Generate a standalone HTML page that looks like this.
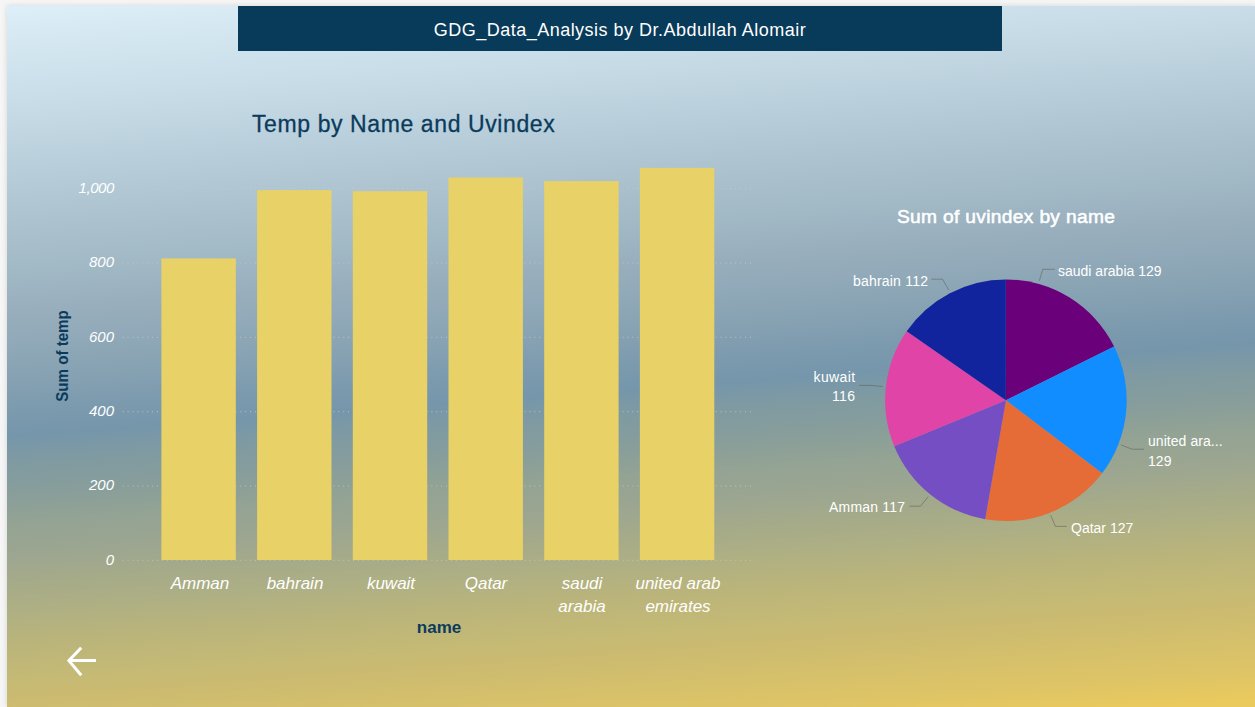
<!DOCTYPE html>
<html>
<head>
<meta charset="utf-8">
<title>GDG_Data_Analysis</title>
<style>
html,body{margin:0;padding:0;}
body{width:1255px;height:707px;overflow:hidden;background:#f6f6f6;position:relative;font-family:"Liberation Sans",sans-serif;}
#canvas{position:absolute;left:7px;top:6px;width:1248px;height:701px;
  box-shadow:0 0 6px rgba(0,0,0,0.14);
  background:
    linear-gradient(175.7deg,
      #ddeff8 0px,
      #c8dde8 95px,
      #b5cbd7 176px,
      #a1b8c5 266px,
      #98aebd 305px,
      #8ea7b6 346px,
      #85a1b2 375px,
      #7c9aae 405px,
      #7596ab 429px,
      #7f9aa2 454px,
      #869d9c 481px,
      #93a394 515px,
      #9da690 551px,
      #a6ab88 578px,
      #afb083 606px,
      #bab47b 635px,
      #c3b976 666px,
      #ccbb70 695px,
      #d5c06b 726px,
      #dec466 756px,
      #eaca5d 786px);
}
.abs{position:absolute;white-space:nowrap;}
#titlebar{position:absolute;left:238px;top:6px;width:764px;height:45px;background:#083a5a;}
#titletxt{left:238px;top:8px;width:764px;height:45px;line-height:45px;text-align:center;color:#fff;font-size:18px;letter-spacing:0.48px;}
#ctitle{left:252px;top:108px;color:#0b3b5c;-webkit-text-stroke:0.3px #0b3b5c;font-size:23px;line-height:32px;letter-spacing:0.6px;}
.yl{position:absolute;width:60px;text-align:right;left:54px;color:#fff;font-style:italic;font-size:15px;line-height:18px;height:18px;}
.xl{position:absolute;width:110px;text-align:center;color:#fff;font-style:italic;font-size:17px;line-height:23px;}
#ytitle{left:62px;top:356px;color:#0b3b5c;font-weight:bold;font-size:16.5px;line-height:18px;transform:translate(-50%,-50%) rotate(-90deg) scaleX(0.915);}
#xtitle{left:439px;top:628px;color:#0b3b5c;font-weight:bold;font-size:17px;line-height:18px;transform:translate(-50%,-50%);}
#ptitle{left:897px;top:205px;color:#fff;font-weight:normal;-webkit-text-stroke:0.55px #fff;font-size:19.2px;line-height:24px;letter-spacing:0.32px;}
.pl{position:absolute;white-space:nowrap;color:#fff;font-size:14px;line-height:20px;}
</style>
</head>
<body>
<div id="canvas"></div>
<div id="titlebar"></div>
<div id="titletxt" class="abs">GDG_Data_Analysis by Dr.Abdullah Alomair</div>

<div id="ctitle" class="abs">Temp by Name and Uvindex</div>

<!-- gridlines + bars -->
<svg class="abs" style="left:0;top:0" width="1255" height="707" viewBox="0 0 1255 707">
<g stroke="rgba(208,203,196,0.8)" stroke-width="1" stroke-dasharray="1 3.9">
<line x1="122.7" y1="188.7" x2="755" y2="188.7"/>
<line x1="122.7" y1="263.0" x2="755" y2="263.0"/>
<line x1="122.7" y1="337.3" x2="755" y2="337.3"/>
<line x1="122.7" y1="411.7" x2="755" y2="411.7"/>
<line x1="122.7" y1="486.0" x2="755" y2="486.0"/>
<line x1="122.7" y1="560.3" x2="755" y2="560.3"/>
</g>
<g fill="#e8d166">
<rect x="161.4" y="258.4" width="74.4" height="301.6"/>
<rect x="257.1" y="190.1" width="74.4" height="369.9"/>
<rect x="352.8" y="191.2" width="74.4" height="368.8"/>
<rect x="448.5" y="177.5" width="74.4" height="382.5"/>
<rect x="544.2" y="181.1" width="74.4" height="378.9"/>
<rect x="639.9" y="167.9" width="74.4" height="392.1"/>
</g>
</svg>

<!-- y labels -->
<div class="yl" style="top:179px;letter-spacing:-0.4px">1,000</div>
<div class="yl" style="top:253px">800</div>
<div class="yl" style="top:328px">600</div>
<div class="yl" style="top:402px">400</div>
<div class="yl" style="top:476px">200</div>
<div class="yl" style="top:551px">0</div>

<!-- x labels -->
<div class="xl" style="left:145px;top:572px">Amman</div>
<div class="xl" style="left:240px;top:572px">bahrain</div>
<div class="xl" style="left:336px;top:572px">kuwait</div>
<div class="xl" style="left:431px;top:572px">Qatar</div>
<div class="xl" style="left:527px;top:572px">saudi<br>arabia</div>
<div class="xl" style="left:623px;top:572px">united arab<br>emirates</div>

<div id="ytitle" class="abs">Sum of temp</div>
<div id="xtitle" class="abs">name</div>

<!-- back arrow -->
<svg class="abs" style="left:0;top:0" width="120" height="707" viewBox="0 0 120 707">
  <path d="M96 660.6H70M81.2 647.7L68.9 660.6L81.2 675.3" fill="none" stroke="#fff" stroke-width="3" stroke-linecap="butt" stroke-linejoin="miter"/>
</svg>

<div id="ptitle" class="abs">Sum of uvindex by name</div>

<svg class="abs" style="left:0;top:0" width="1255" height="707" viewBox="0 0 1255 707">
<path d="M1005.9 400.25L1005.90 279.45A120.8 120.8 0 0 1 1114.12 346.57Z" fill="#6B007B"/>
<path d="M1005.9 400.25L1114.12 346.57A120.8 120.8 0 0 1 1102.08 473.34Z" fill="#118DFF"/>
<path d="M1005.9 400.25L1102.08 473.34A120.8 120.8 0 0 1 985.21 519.26Z" fill="#E66C37"/>
<path d="M1005.9 400.25L985.21 519.26A120.8 120.8 0 0 1 894.25 446.36Z" fill="#744EC2"/>
<path d="M1005.9 400.25L894.25 446.36A120.8 120.8 0 0 1 906.67 331.36Z" fill="#E044A7"/>
<path d="M1005.9 400.25L906.67 331.36A120.8 120.8 0 0 1 1005.90 279.45Z" fill="#12239E"/>
<g fill="none" stroke="#605e5c" stroke-opacity="0.55" stroke-width="1">
<path d="M1039.3 280.9L1042.8 269.3H1054.8"/>
<path d="M1120.9 444.9L1132 449.2H1144"/>
<path d="M1050.6 515.1L1055.4 526.4H1066.8"/>
<path d="M928.2 496.7L920.4 506.2H909.3"/>
<path d="M882.8 386.5L871.4 385.4H859.1"/>
<path d="M948.8 290.3L942.6 279.2H931.3"/>
</g>
</svg>

<div class="pl" style="left:1058px;top:261px">saudi arabia 129</div>
<div class="pl" style="left:1148px;top:431px;letter-spacing:0.05px">united ara...<br>129</div>
<div class="pl" style="left:1071px;top:518px">Qatar 127</div>
<div class="pl" style="left:829px;top:497px;letter-spacing:0.2px">Amman 117</div>
<div class="pl" style="left:755px;width:100.4px;top:367px;text-align:right;letter-spacing:0.35px">kuwait</div>
<div class="pl" style="left:755px;width:100.4px;top:386px;text-align:right;letter-spacing:0.35px">116</div>
<div class="pl" style="left:853px;top:271px;letter-spacing:0.2px">bahrain 112</div>

</body>
</html>
